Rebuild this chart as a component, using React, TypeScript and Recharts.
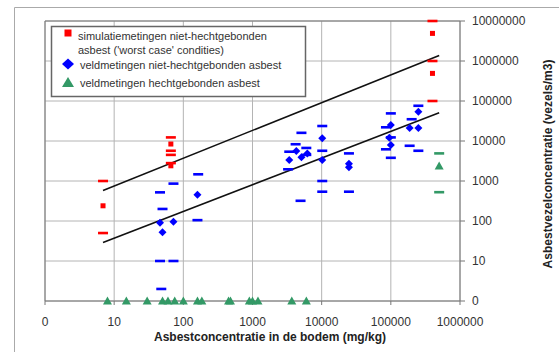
import {
  ScatterChart, Scatter, XAxis, YAxis, CartesianGrid, ReferenceLine,
} from 'recharts';

// Asbestvezelconcentratie in lucht vs. asbestconcentratie in de bodem (log-log)

const RED = '#ff0000';
const BLUE = '#0000ff';
const GREEN = '#339966';
const FONT = '"Liberation Sans", Arial, sans-serif';

const xTicks = [1, 10, 100, 1000, 10000, 100000, 1000000];
const yTicks = [1, 10, 100, 1000, 10000, 100000, 1000000, 10000000];

// [bodem mg/kg, vezels/m3]
const redSquares = [[6.9, 240], [66, 8400], [66, 2400], [400000, 4900000], [400000, 490000]];
const redDashes = [
  [6.9, 1000], [6.9, 50], [66, 12300], [66, 5700], [66, 4500], [66, 2800],
  [400000, 10000000], [400000, 1000000], [400000, 100000],
];

const blueDiamonds = [
  [46, 91], [72, 96], [50, 52], [160, 455],
  [3400, 3350], [5100, 3900], [6200, 4900], [4300, 5600],
  [10200, 11700], [10200, 3350], [24800, 2700], [24800, 2200],
  [100000, 25000], [95000, 12000], [100000, 7900],
  [250000, 54000], [187000, 21000], [250000, 21000],
];
const blueDashes = [
  [72, 860], [46, 520], [50, 200], [48, 2], [46, 10], [72, 10], [164, 1470], [160, 105],
  [5100, 16000], [4200, 8300], [3400, 5400], [6000, 6700], [6000, 4500], [3270, 1960], [4950, 320],
  [10200, 23700], [10200, 5700], [10200, 1000], [10200, 540],
  [24800, 4900], [24800, 540],
  [100000, 49000], [85000, 22000], [100000, 12300], [85000, 6200], [100000, 3800],
  [250000, 76000], [200000, 35000], [187000, 7600], [250000, 5700],
];

const greenTriangles = [
  [8, 1], [15, 1], [30, 1], [50, 1], [60, 1], [75, 1], [100, 1], [160, 1], [185, 1],
  [450, 1], [480, 1], [900, 1], [1000, 1], [1200, 1], [3700, 1], [6000, 1],
  [500000, 2370],
];
const greenDashes = [[500000, 4900], [500000, 525]];

const trendLow = [[6.9, 29], [500000, 51000]];
const trendHigh = [[6.9, 580], [500000, 1380000]];

const pts = (a: number[][]) => a.map(([x, y]) => ({ x, y }));
const fmt = (v: number) => (v === 1 ? '0' : String(v));

const dash = (color: string) => (p: any) =>
  <rect x={p.cx - 5} y={p.cy - 1.3} width={10} height={2.6} fill={color} />;
const square = (p: any) => <rect x={p.cx - 2.5} y={p.cy - 2.5} width={5} height={5} fill={RED} />;
const diamond = (p: any) =>
  <polygon points={`${p.cx},${p.cy - 4} ${p.cx + 4},${p.cy} ${p.cx},${p.cy + 4} ${p.cx - 4},${p.cy}`} fill={BLUE} />;
const triangle = (p: any) =>
  <polygon points={`${p.cx},${p.cy - 4.5} ${p.cx + 4.5},${p.cy + 3.5} ${p.cx - 4.5},${p.cy + 3.5}`} fill={GREEN} />;
const none = () => <g />;

export default function App() {
  const tick = { fill: '#333', fontSize: 12, fontFamily: FONT };
  return (
    <div style={{ position: 'absolute', left: 0, top: 0, width: 559, height: 352, overflow: 'hidden', background: '#fff' }}>
      <ScatterChart width={559} height={352} margin={{ top: 21, right: 39, bottom: 21, left: 45 }}>
        <CartesianGrid stroke="#b4b4b4" />
        <XAxis
          type="number" dataKey="x" scale="log" domain={[1, 1000000]}
          ticks={xTicks} tickFormatter={fmt} height={30}
          tick={tick} tickSize={4} tickMargin={12}
          axisLine={{ stroke: '#777' }} tickLine={{ stroke: '#777' }}
        />
        <YAxis
          type="number" dataKey="y" scale="log" domain={[1, 10000000]}
          orientation="right" ticks={yTicks} tickFormatter={fmt} width={60}
          tick={tick} tickSize={5} tickMargin={7}
          axisLine={{ stroke: '#777' }} tickLine={{ stroke: '#777' }}
        />
        <ReferenceLine x={1} stroke="#777" />
        <ReferenceLine y={10000000} stroke="#777" />
        <Scatter data={pts(trendLow)} line={{ stroke: '#111', strokeWidth: 1.6 }} shape={none} isAnimationActive={false} />
        <Scatter data={pts(trendHigh)} line={{ stroke: '#111', strokeWidth: 1.6 }} shape={none} isAnimationActive={false} />
        <Scatter data={pts(redDashes)} shape={dash(RED)} isAnimationActive={false} />
        <Scatter data={pts(redSquares)} shape={square} isAnimationActive={false} />
        <Scatter data={pts(blueDashes)} shape={dash(BLUE)} isAnimationActive={false} />
        <Scatter data={pts(blueDiamonds)} shape={diamond} isAnimationActive={false} />
        <Scatter data={pts(greenDashes)} shape={dash(GREEN)} isAnimationActive={false} />
        <Scatter data={pts(greenTriangles)} shape={triangle} isAnimationActive={false} />
      </ScatterChart>

      <svg width={559} height={352} style={{ position: 'absolute', left: 0, top: 0 }} fontFamily={FONT}>
        {/* kader van de schermafbeelding */}
        <line x1={14.5} y1={7.5} x2={559} y2={7.5} stroke="#aaa" />
        <line x1={14.5} y1={7.5} x2={14.5} y2={352} stroke="#aaa" />

        {/* legenda */}
        <rect x={51.5} y={26.5} width={254} height={70} fill="#fff" stroke="#666" strokeWidth={1.5} />
        <rect x={64.5} y={29.5} width={7} height={7} fill={RED} />
        <polygon points="68,58.5 74,64 68,69.5 62,64" fill={BLUE} />
        <polygon points="68,77 74,87 62,87" fill={GREEN} />
        <g fontSize={11} fill="#333">
          <text x={78} y={40}>simulatiemetingen niet-hechtgebonden</text>
          <text x={78} y={54}>asbest ('worst case' condities)</text>
          <text x={80} y={68.5}>veldmetingen niet-hechtgebonden asbest</text>
          <text x={80} y={87}>veldmetingen hechtgebonden asbest</text>
        </g>

        {/* astitels */}
        <text x={270} y={341} textAnchor="middle" fontSize={12} fontWeight="bold" fill="#222">
          Asbestconcentratie  in de bodem (mg/kg)
        </text>
        <text transform="translate(548,164) rotate(-90)" textAnchor="middle" dominantBaseline="central"
          fontSize={12} fontWeight="bold" fill="#222">
          Asbestvezelconcentratie  (vezels/m3)
        </text>
      </svg>
    </div>
  );
}
